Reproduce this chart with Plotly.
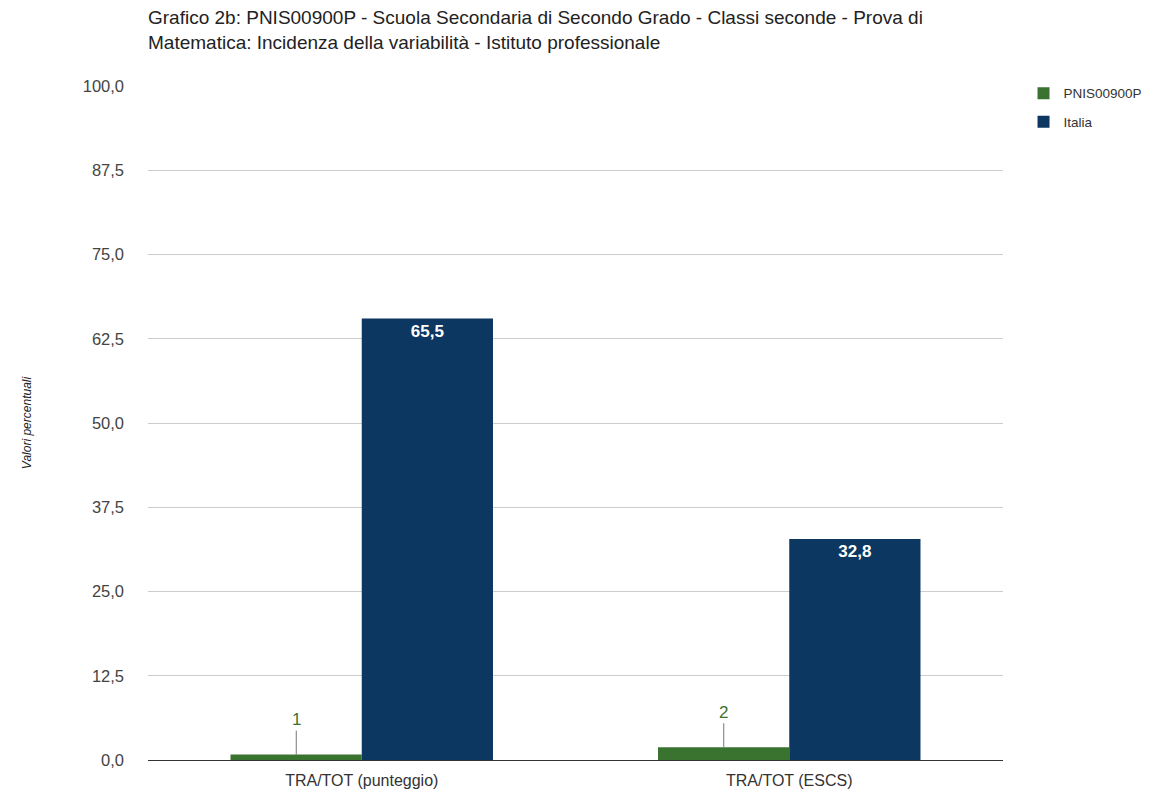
import plotly.graph_objects as go

categories = ["TRA/TOT (punteggio)", "TRA/TOT (ESCS)"]
school_name = "PNIS00900P"
school_values = [0.8, 1.9]
school_labels = ["1", "2"]
italy_name = "Italia"
italy_values = [65.5, 32.8]
y_ticks = [0, 12.5, 25, 37.5, 50, 62.5, 75, 87.5, 100]

green = "#3A7230"
blue = "#0C3761"
font = "Liberation Sans, Arial, sans-serif"

fig = go.Figure()
fig.add_trace(go.Bar(x=categories, y=school_values, name=school_name,
                     legendgroup="a",
                     marker=dict(color=green, line=dict(width=0)),
                     hoverinfo="y"))
fig.add_trace(go.Bar(x=categories, y=italy_values, name=italy_name,
                     legendgroup="b",
                     marker=dict(color=blue, line=dict(width=0)),
                     texttemplate="<b>%{y:.1f}</b>", textposition="inside",
                     insidetextanchor="end",
                     textfont=dict(color="white", size=17, family=font),
                     hoverinfo="y"))

for cat, val, lab in zip(categories, school_values, school_labels):
    fig.add_annotation(x=cat, y=val, text=lab, showarrow=True, arrowhead=0,
                       arrowwidth=1, arrowcolor="#777777", ax=0, ay=-35,
                       xshift=-65.5, font=dict(color=green, size=17, family=font))

fig.update_layout(
    width=1161, height=784,
    margin=dict(l=140, r=166, t=78, b=32, autoexpand=False),
    paper_bgcolor="white", plot_bgcolor="white",
    separators=",.",
    barmode="group", bargap=0.386, bargroupgap=0,
    font=dict(family=font, size=12, color="#444444"),
    title=dict(text="Grafico 2b: PNIS00900P - Scuola Secondaria di Secondo Grado - Classi seconde - Prova di<br>Matematica: Incidenza della variabilità - Istituto professionale",
               x=140/1161, xanchor="left", y=1-16/784, yanchor="top",
               font=dict(size=19, color="#222222", family=font)),
    legend=dict(x=1.024, xanchor="left", y=1.012, yanchor="top",
                font=dict(size=13.5, color="#333333", family=font),
                tracegroupgap=8, itemwidth=30),
    showlegend=True,
    yaxis=dict(range=[0, 100], tickvals=y_ticks, tickformat=".1f",
               showgrid=True, gridcolor="#CCCCCC", gridwidth=1,
               zeroline=False, showline=False, ticks="",
               ticklabelstandoff=23, automargin=False,
               tickfont=dict(size=16.5, color="#444444", family=font),
               title=dict(text="<i>Valori percentuali</i>", standoff=48,
                          font=dict(size=12, color="#222222", family=font))),
    xaxis=dict(showline=True, linecolor="#333333", linewidth=1, ticks="",
               ticklabelstandoff=6, automargin=False,
               tickfont=dict(size=16, color="#333333", family=font)),
)

fig.write_html("out.html")
